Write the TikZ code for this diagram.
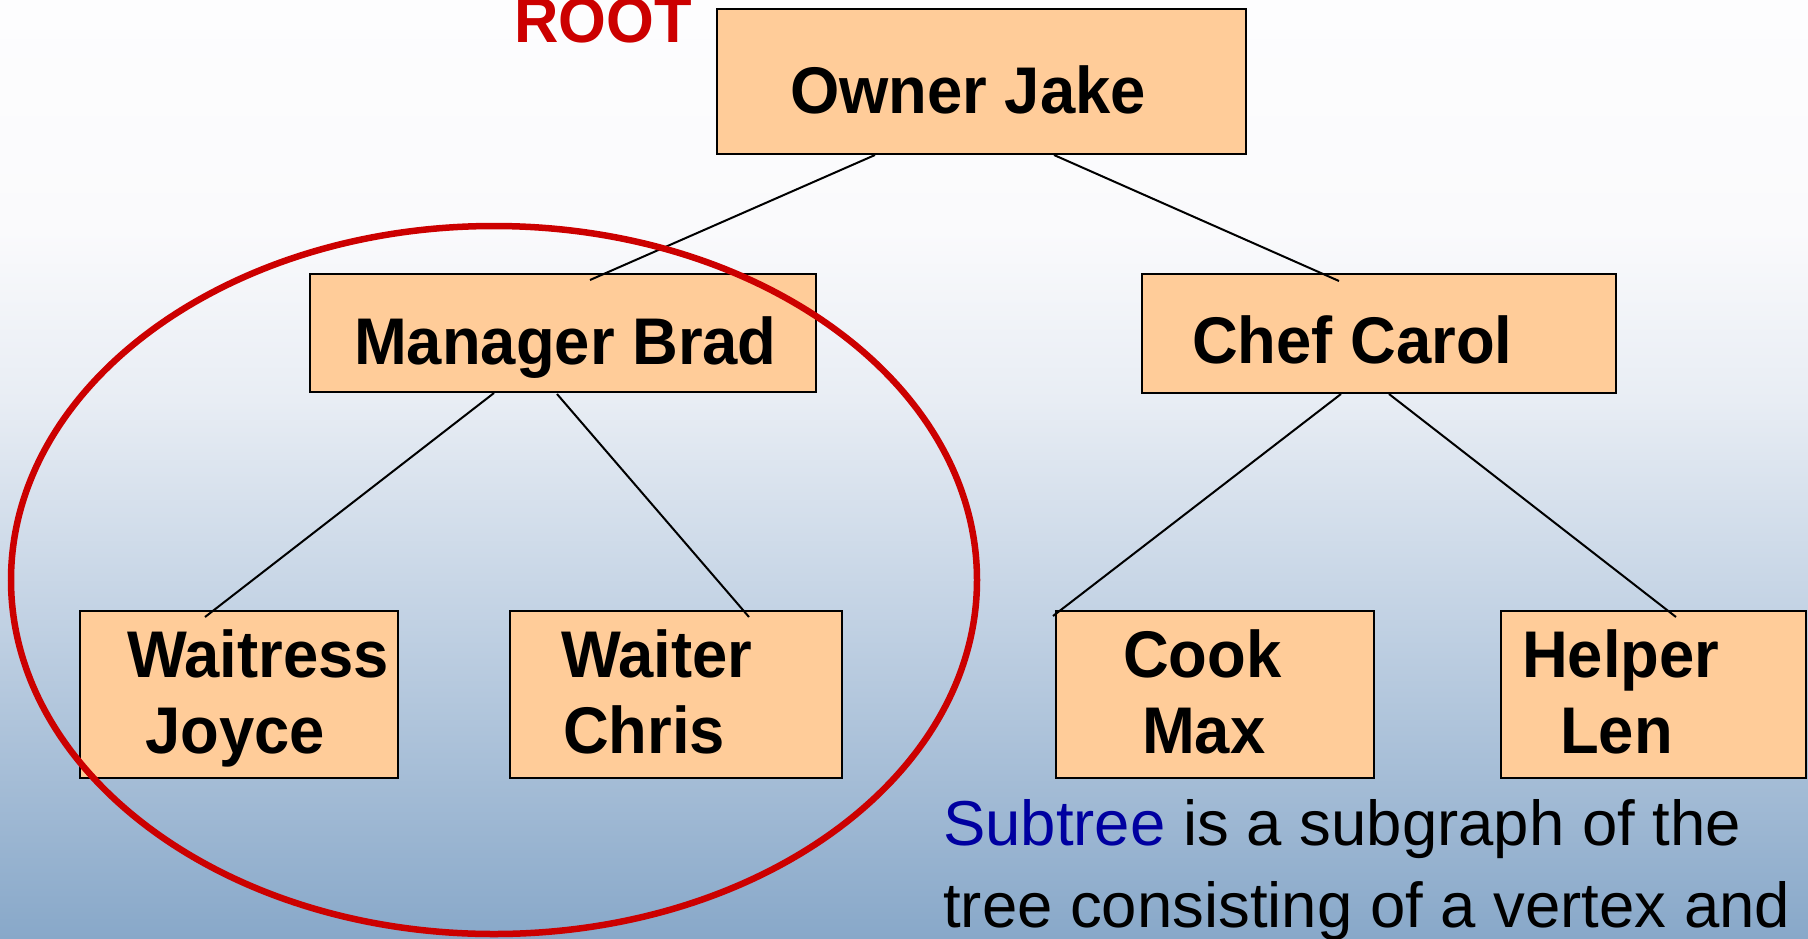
\documentclass[tikz,border=0pt]{standalone}
\usepackage{fontspec}
\usetikzlibrary{calc}
\setmainfont{Liberation Sans}
\newfontfamily\labelfont{Liberation Sans}[FakeStretch=0.96]

\definecolor{bgTop}{RGB}{253,253,254}
\definecolor{bgA}{RGB}{250,250,252}
\definecolor{bgB}{RGB}{232,237,244}
\definecolor{bgC}{RGB}{197,212,229}
\definecolor{bgBot}{RGB}{136,168,201}
\definecolor{peach}{RGB}{255,204,153}
\definecolor{rootred}{RGB}{204,0,0}
\definecolor{termblue}{RGB}{0,0,160}

% vertical background: white at the top, steel blue at the bottom
\pgfdeclareverticalshading{bgshade}{100bp}{%
  color(0bp)=(bgBot); color(25bp)=(bgBot); color(43bp)=(bgC);
  color(53.7bp)=(bgB); color(62.7bp)=(bgA); color(75bp)=(bgTop);
  color(100bp)=(bgTop)}

\tikzset{
  box/.style={draw=black, line width=2pt, fill=peach, rectangle,
    inner sep=0pt, anchor=north west},
  lbl/.style={inner sep=0pt, anchor=base west,
    font=\labelfont\bfseries\fontsize{66}{76}\selectfont},
  body/.style={inner sep=0pt, anchor=base west,
    font=\fontsize{63.5}{72}\selectfont},
  edge/.style={draw=black, line width=2pt},
}

\begin{document}
\begin{tikzpicture}[x=1pt, y=-1pt]
  \useasboundingbox (0,0) rectangle (1808,938);
  \shade[shading=bgshade] (0,0) rectangle (1808,938);

  % organisation boxes
  \node[box, minimum width=529pt, minimum height=145pt] (owner)    at (716,8)   {};
  \node[box, minimum width=506pt, minimum height=118pt] (manager)  at (309,273) {};
  \node[box, minimum width=474pt, minimum height=119pt] (chef)     at (1141,273) {};
  \node[box, minimum width=318pt, minimum height=167pt] (waitress) at (79,610)  {};
  \node[box, minimum width=332pt, minimum height=167pt] (waiter)   at (509,610) {};
  \node[box, minimum width=318pt, minimum height=167pt] (cook)     at (1055,610) {};
  \node[box, minimum width=305pt, minimum height=167pt] (helper)   at (1500,610) {};

  % tree edges
  \draw[edge] ($(owner.south west)+(159,0)$)   -- ($(manager.north west)+(281,7)$);
  \draw[edge] ($(owner.south west)+(338,0)$)   -- ($(chef.north west)+(198,8)$);
  \draw[edge] ($(manager.south west)+(185,0)$) -- ($(waitress.north west)+(126,7)$);
  \draw[edge] ($(manager.south west)+(248,1)$) -- ($(waiter.north west)+(240,7)$);
  \draw[edge] ($(chef.south west)+(200,0)$)    -- ($(cook.north west)+(-2,6)$);
  \draw[edge] ($(chef.south west)+(248,0)$)    -- ($(helper.north west)+(176,7)$);

  % labels
  \node[lbl] (ownerT)    at (790,113)  {Owner Jake};
  \node[lbl] (managerT)  at (354,364)  {Manager Brad};
  \node[lbl] (chefT)     at (1192,363) {Chef Carol};
  \node[lbl] (waitressA) at (127,677)  {Waitress};
  \node[lbl] (waitressB) at (145,753)  {Joyce};
  \node[lbl] (waiterA)   at (561,677)  {Waiter};
  \node[lbl] (waiterB)   at (563,753)  {Chris};
  \node[lbl] (cookA)     at (1123,677) {Cook};
  \node[lbl] (cookB)     at (1142,753) {Max};
  \node[lbl] (helperA)   at (1522,677) {Helper};
  \node[lbl] (helperB)   at (1560,753) {Len};

  \node[lbl, text=rootred, font=\labelfont\bfseries\fontsize{64}{72}\selectfont]
    (root) at (514,42) {ROOT};

  % subtree outline
  \draw[rootred, line width=6.5pt] (494,580) ellipse [x radius=483, y radius=354];

  % definition text
  \node[body] (defA) at (943,845) {\textcolor{termblue}{Subtree} is a subgraph of the};
  \node[body] (defB) at (943,927) {tree consisting of a vertex and};
\end{tikzpicture}
\end{document}
